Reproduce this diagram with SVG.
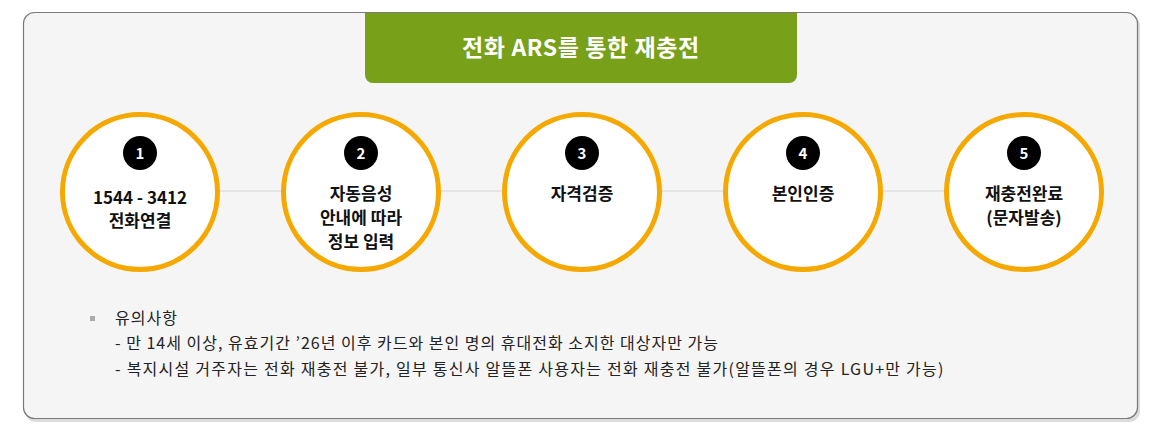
<svg xmlns="http://www.w3.org/2000/svg" width="1153" height="429" viewBox="0 0 1153 429">
<defs>
<style>
.t{font-family:"Noto Sans CJK KR","Noto Sans",sans-serif;}
.ring{fill:#fff;stroke:#f5a800;stroke-width:5;}
.badge{fill:#000;}
.num{fill:#fff;font-size:15px;font-weight:bold;text-anchor:middle;}
.lbl{fill:#111;font-size:17px;font-weight:bold;text-anchor:middle;}
.note{fill:#222;font-size:16px;letter-spacing:1px;}
.conn{stroke:#d4d4d4;stroke-width:1.2;}
</style>
</defs>
<rect width="1153" height="429" fill="#fff"/>
<rect x="25" y="15" width="1115" height="407" rx="11" fill="#dcdcdc"/>
<rect x="23.5" y="12.5" width="1114" height="406" rx="11" fill="#f5f5f5" stroke="#7a7a7a" stroke-width="1.2"/>
<g id="title">
<path d="M365 13 H797 V75 a8 8 0 0 1 -8 8 H373 a8 8 0 0 1 -8 -8 Z" fill="#78a019"/>
<text class="t" x="581" y="56" fill="#fff" font-size="23" font-weight="bold" letter-spacing="0.6" text-anchor="middle">전화 ARS를 통한 재충전</text>
</g>
<g id="connectors">
<line class="conn" x1="219" y1="191" x2="282" y2="191"/>
<line class="conn" x1="440" y1="191" x2="503" y2="191"/>
<line class="conn" x1="661" y1="191" x2="724" y2="191"/>
<line class="conn" x1="882" y1="191" x2="945" y2="191"/>
</g>
<g id="step1">
<circle class="ring" cx="140" cy="192" r="77.5"/>
<circle class="badge" cx="140" cy="153" r="17"/>
<text class="t num" x="140" y="159">1</text>
<text class="t lbl" x="140" y="204">1544 - 3412</text>
<text class="t lbl" x="140" y="227">전화연결</text>
</g>
<g id="step2">
<circle class="ring" cx="361" cy="192" r="77.5"/>
<circle class="badge" cx="361" cy="153" r="17"/>
<text class="t num" x="361" y="159">2</text>
<text class="t lbl" x="361" y="200">자동음성</text>
<text class="t lbl" x="361" y="224">안내에 따라</text>
<text class="t lbl" x="361" y="248">정보 입력</text>
</g>
<g id="step3">
<circle class="ring" cx="582" cy="192" r="77.5"/>
<circle class="badge" cx="582" cy="153" r="17"/>
<text class="t num" x="582" y="159">3</text>
<text class="t lbl" x="582" y="200">자격검증</text>
</g>
<g id="step4">
<circle class="ring" cx="803" cy="192" r="77.5"/>
<circle class="badge" cx="803" cy="153" r="17"/>
<text class="t num" x="803" y="159">4</text>
<text class="t lbl" x="803" y="200">본인인증</text>
</g>
<g id="step5">
<circle class="ring" cx="1024" cy="192" r="77.5"/>
<circle class="badge" cx="1024" cy="153" r="17"/>
<text class="t num" x="1024" y="159">5</text>
<text class="t lbl" x="1024" y="200">재충전완료</text>
<text class="t lbl" x="1024" y="224">(문자발송)</text>
</g>
<g id="notes">
<rect x="90" y="316" width="5" height="5" fill="#aaa"/>
<text class="t note" x="115" y="324">유의사항</text>
<text class="t note" x="115" y="349">- 만 14세 이상, 유효기간 ’26년 이후 카드와 본인 명의 휴대전화 소지한 대상자만 가능</text>
<text class="t note" x="115" y="375" style="letter-spacing:1.25px">- 복지시설 거주자는 전화 재충전 불가, 일부 통신사 알뜰폰 사용자는 전화 재충전 불가(알뜰폰의 경우 LGU+만 가능)</text>
</g>
</svg>
